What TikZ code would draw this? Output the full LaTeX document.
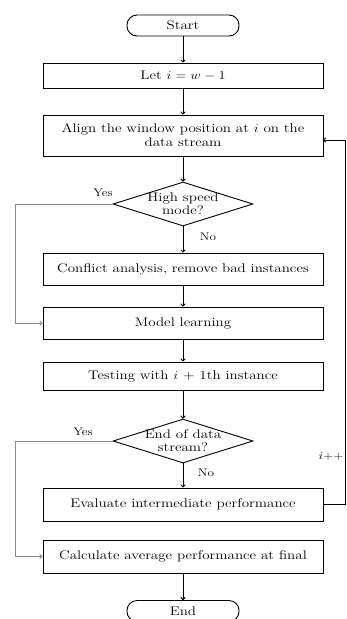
\documentclass[tikz,border=0pt]{standalone}
\usepackage{graphicx}
\usetikzlibrary{shapes.geometric,arrows.meta}
\newcommand\stretchtxt[1]{\scalebox{1.2}[1]{#1}}
\begin{document}
\begin{tikzpicture}[x=1pt,y=-1pt,
  every node/.style={font=\fontsize{12.5}{14}\selectfont},
  procbox/.style={draw,line width=1pt,minimum width=280pt,inner sep=0pt,align=center},
  term/.style={draw,line width=0.9pt,rounded corners=10pt,minimum width=112pt,minimum height=21pt,inner sep=0pt},
  decis/.style={draw,line width=0.9pt,diamond,aspect=3.2,minimum width=140pt,minimum height=44pt,inner sep=-4pt,align=center,font=\fontsize{12.5}{13}\selectfont},
  flow/.style={line width=1pt,-{To[length=3pt,width=5pt]}},
  yesflow/.style={line width=0.9pt,draw=black!45,-{To[length=3pt,width=5pt]}},
  lbl/.style={font=\fontsize{11}{12}\selectfont}]
\useasboundingbox (0,0) rectangle (347,619);
\node[term] (start) at (183,25.5) {\stretchtxt{Start}};
\node[procbox,minimum height=25pt] (b1) at (183,75.5) {\stretchtxt{Let $i = w - 1$}};
\node[procbox,minimum height=41pt] (b2) at (183,135.5) {\stretchtxt{Align the window position at $i$ on the}\\ \stretchtxt{data stream}};
\node[decis] (d1) at (183,204) {\stretchtxt{High speed}\\ \stretchtxt{mode?}};
\node[procbox,minimum height=32pt] (b3) at (183,269) {\stretchtxt{Conflict analysis, remove bad instances}};
\node[procbox,minimum height=32pt] (b4) at (183,323) {\stretchtxt{Model learning}};
\node[procbox,minimum height=28pt] (b5) at (183,376) {\stretchtxt{Testing with $i$ + 1th instance}};
\node[decis] (d2) at (183,441) {\stretchtxt{End of data}\\ \stretchtxt{stream?}};
\node[procbox,minimum height=33pt] (b6) at (183,504.5) {\stretchtxt{Evaluate intermediate performance}};
\node[procbox,minimum height=33pt] (b7) at (183,556.5) {\stretchtxt{Calculate average performance at final}};
\node[term] (end) at (183,611) {\stretchtxt{End}};
\node[lbl] (yes1) at (103,193) {\stretchtxt{Yes}};
\node[lbl] (no1) at (208,237) {\stretchtxt{No}};
\node[lbl] (yes2) at (83,432) {\stretchtxt{Yes}};
\node[lbl] (no2) at (206,473) {\stretchtxt{No}};
\node[lbl] (inc) at (331,456) {\stretchtxt{$i$++}};
\coordinate (y1a) at (15,204);
\coordinate (y1b) at (15,323);
\coordinate (y2a) at (15,441);
\coordinate (y2b) at (15,556.5);
\coordinate (fba) at (345,504.5);
\coordinate (fbb) at (345,140);
\coordinate (fbc) at (323,140);
\draw[flow] (start) -- (b1);
\draw[flow] (b1) -- (b2);
\draw[flow] (b2) -- (d1);
\draw[flow] (d1) -- (b3);
\draw[flow] (b3) -- (b4);
\draw[flow] (b4) -- (b5);
\draw[flow] (b5) -- (d2);
\draw[flow] (d2) -- (b6);
\draw[flow] (b7) -- (end);
\draw[yesflow] (d1.west) -- (y1a) -- (y1b) -- (b4.west);
\draw[yesflow] (d2.west) -- (y2a) -- (y2b) -- (b7.west);
\draw[flow] (b6.east) -- (fba) -- (fbb) -- (fbc);
\end{tikzpicture}
\end{document}
